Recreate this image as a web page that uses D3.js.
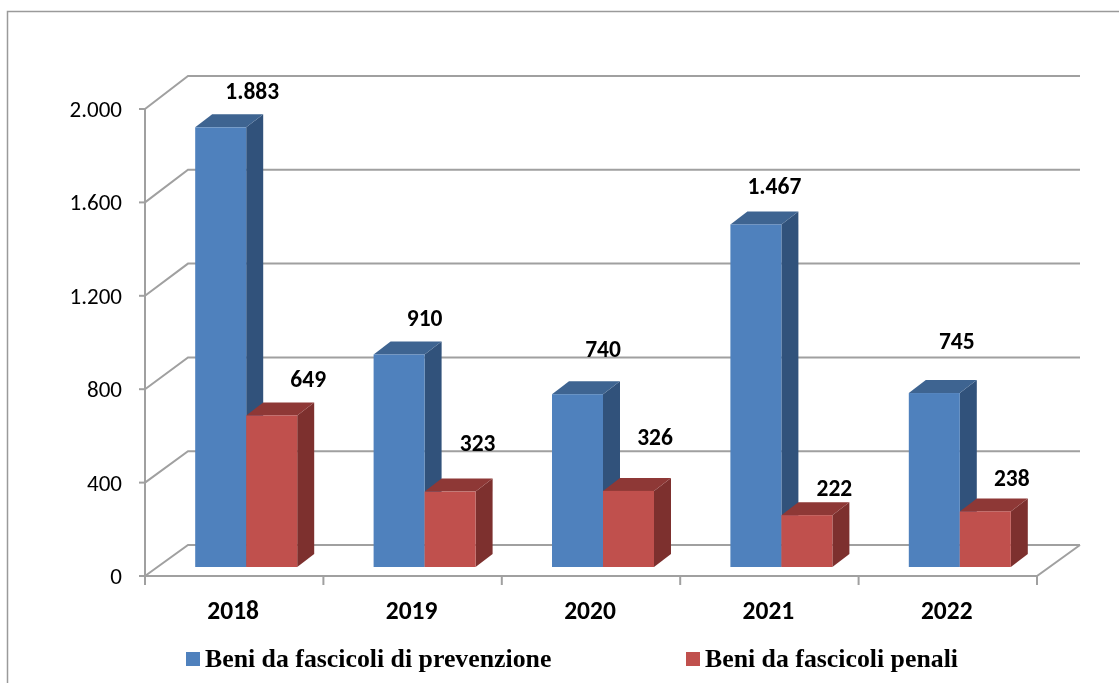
<!DOCTYPE html>
<html><head><meta charset="utf-8">
<style>html,body{margin:0;padding:0;background:#fff;overflow:hidden}svg{display:block}#c{filter:blur(0.4px)}</style>
<script src="https://cdnjs.cloudflare.com/ajax/libs/d3/7.8.5/d3.min.js"></script>
</head><body><svg id="c" width="1119" height="683"></svg>
<script>
const years = ["2018","2019","2020","2021","2022"];
const prevenzione = [1883,910,740,1467,745];
const penali = [649,323,326,222,238];
const valueLabels = {prev:["1.883","910","740","1.467","745"],pen:["649","323","326","222","238"]};
const yTicks = [0,400,800,1200,1600,2000];
const yTickLabels = ["0","400","800","1.200","1.600","2.000"];
const seriesNames = ["Beni da fascicoli di prevenzione","Beni da fascicoli penali"];
// manual label placement, as in the source chart (dx from bar left, dy from bar top)
const nudgePrev = [[57,-37],[51,-37],[51,-45],[44,-39],[48,-52]];
const nudgePen = [[62,-37],[53,-49],[52,-54],[53,-27],[52,-34]];

const svg = d3.select("#c");
const sans = "Carlito, Lato, 'Open Sans', sans-serif";
const serif = "'Liberation Serif', serif";
const gridC = "#a0a0a0";
const x = d3.scaleBand().domain(years).range([145,1037]);
const y = d3.scaleLinear().domain([0,2000]).range([576,109]);
const yBack = d3.scaleLinear().domain([0,2000]).range([545,76]);
const backDx = 43;
const barDepth = {dx:17,dy:-13};
const barBaseShift = -9;
const barW = 51;
const barOffset = -39; // left edge of blue bar relative to band centre

// frame
svg.append("path").attr("d","M7.5,683V11.5H1119").attr("fill","none").attr("stroke","#9a9a9a").attr("stroke-width",1.5);

// gridlines + left wall
yTicks.forEach(t=>{
  const yy=y(t), yb=yBack(t);
  svg.append("path").attr("d",`M145,${yy}L${145+backDx},${yb}H${1037+backDx}`)
    .attr("fill","none").attr("stroke",gridC).attr("stroke-width",2);
  svg.append("line").attr("x1",139).attr("x2",145).attr("y1",yy).attr("y2",yy).attr("stroke",gridC).attr("stroke-width",2);
  });
svg.append("line").attr("x1",145).attr("x2",145).attr("y1",y(2000)).attr("y2",y(0)).attr("stroke",gridC).attr("stroke-width",2);
// floor front edge
svg.append("path").attr("d",`M${145},${y(0)}H1037L${1037+backDx},${yBack(0)}`).attr("fill","none").attr("stroke",gridC).attr("stroke-width",2);
// x ticks
x.domain().concat(["end"]).forEach((d,i)=>{
  const xx=145+i*x.step();
  svg.append("line").attr("x1",xx).attr("x2",xx).attr("y1",576).attr("y2",585).attr("stroke",gridC).attr("stroke-width",2);
});

function bar(x0,v,c){
  const base=y(0)+barBaseShift, h=y(0)-y(v), top=base-h, d=barDepth, g=svg.append("g");
  g.append("path").attr("d",`M${x0+barW},${top}l${d.dx},${d.dy}V${base+d.dy}l${-d.dx},${-d.dy}Z`).attr("fill",c[1]);
  g.append("path").attr("d",`M${x0},${top}l${d.dx},${d.dy}h${barW}l${-d.dx},${-d.dy}Z`).attr("fill",c[2]);
  g.append("rect").attr("x",x0).attr("y",top).attr("width",barW).attr("height",h).attr("fill",c[0]);
  return top;
}
const blue=["#4f81bd","#31527b","#3e6491"], red=["#c0504d","#7d302e","#8e3836"];
const labelLayer=[];
years.forEach((yr,i)=>{
  const x0=x(yr)+x.bandwidth()/2+barOffset;
  const t1=bar(x0,prevenzione[i],blue);
  const t2=bar(x0+barW,penali[i],red);
  labelLayer.push([x0+nudgePrev[i][0],t1+nudgePrev[i][1],valueLabels.prev[i]]);
  labelLayer.push([x0+barW+nudgePen[i][0],t2+nudgePen[i][1],valueLabels.pen[i]]);
});
labelLayer.forEach(l=>{
  svg.append("text").attr("x",l[0]).attr("y",l[1]).attr("dy","0.35em").attr("text-anchor","middle")
   .attr("font-family",sans).attr("font-weight",700).attr("font-size",23.5).attr("fill","#000").text(l[2]);
});
// axis labels
yTicks.forEach((t,i)=>{
  svg.append("text").attr("x",122).attr("y",y(t)).attr("dy","0.35em").attr("text-anchor","end")
   .attr("font-family",sans).attr("font-size",23).attr("fill","#000").text(yTickLabels[i]);
});
years.forEach(yr=>{
  svg.append("text").attr("x",x(yr)+x.bandwidth()/2-1).attr("y",610).attr("dy","0.35em").attr("text-anchor","middle")
   .attr("font-family",sans).attr("font-weight",700).attr("font-size",25.5).attr("fill","#000").text(yr);
});
// legend
[[186,205,"#4f81bd"],[686,705,"#c0504d"]].forEach((l,i)=>{
  svg.append("rect").attr("x",l[0]).attr("y",652).attr("width",14).attr("height",14).attr("fill",l[2]);
  svg.append("text").attr("x",l[1]).attr("y",667).attr("font-family",serif).attr("font-weight",700)
    .attr("font-size",25.8).attr("fill","#000").text(seriesNames[i]);
});
</script></body></html>
